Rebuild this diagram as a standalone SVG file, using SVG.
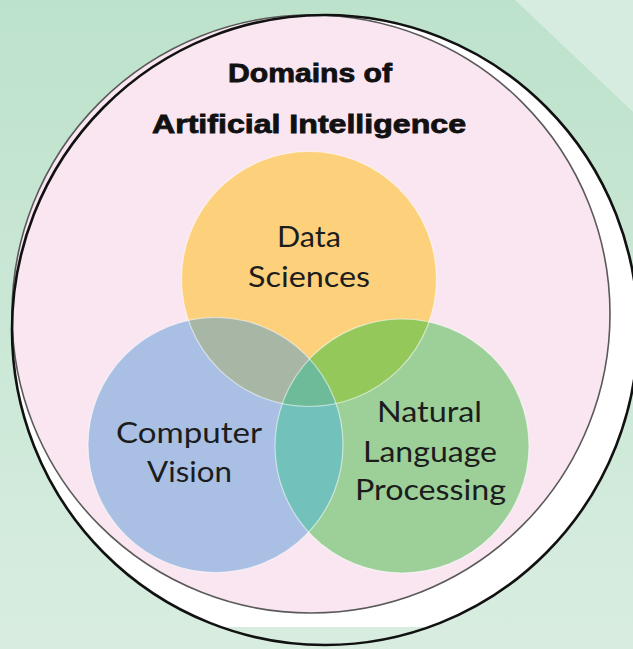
<svg xmlns="http://www.w3.org/2000/svg" width="633" height="649" viewBox="0 0 633 649">
  <defs>
    <linearGradient id="bg" x1="0" y1="0" x2="0" y2="1">
      <stop offset="0" stop-color="#bde2cb"/>
      <stop offset="1" stop-color="#d8ede0"/>
    </linearGradient>
    <clipPath id="clipTop"><rect x="0" y="0" width="633" height="627"/></clipPath>
    <clipPath id="cY"><circle cx="309" cy="279" r="127.5"/></clipPath>
    <clipPath id="cB"><circle cx="215.5" cy="445" r="127.5"/></clipPath>
    <clipPath id="cG"><circle cx="402" cy="446" r="127"/></clipPath>
    <style>
      .title { font-family: "Liberation Sans", Arial, sans-serif; font-weight: bold; font-size: 25px; fill: #111; stroke: #111; stroke-width: 0.8; text-anchor: middle; }
      .lbl { font-family: Lato, "Open Sans", sans-serif; font-size: 29px; fill: #1c1c1c; text-anchor: middle; }
      .edge { fill: none; stroke: #ffffff; stroke-opacity: 0.55; stroke-width: 1.2; }
    </style>
  </defs>

  <g id="background">
    <rect x="0" y="0" width="633" height="649" fill="url(#bg)"/>
    <polygon points="515,0 633,0 633,112" fill="#d6ece0"/>
  </g>

  <g id="frame">
    <ellipse cx="325" cy="330" rx="313" ry="315" fill="#ffffff" clip-path="url(#clipTop)"/>
    <circle cx="311" cy="314" r="299" fill="#f9e6f1" stroke="#5a5a5a" stroke-width="1.6"/>
    <ellipse cx="325" cy="330" rx="313" ry="315" fill="none" stroke="#111" stroke-width="2.6"/>
  </g>

  <g id="title">
    <text class="title" x="310" y="82" textLength="164" lengthAdjust="spacingAndGlyphs">Domains of</text>
    <text class="title" x="309" y="133" textLength="314" lengthAdjust="spacingAndGlyphs">Artificial Intelligence</text>
  </g>

  <g id="data-sciences">
    <circle cx="309" cy="279" r="127.5" fill="#fdd17b"/>
  </g>
  <g id="computer-vision">
    <circle cx="215.5" cy="445" r="127.5" fill="#a9bfe3"/>
  </g>
  <g id="natural-language-processing">
    <circle cx="402" cy="446" r="127" fill="#9dd099"/>
  </g>

  <g id="overlaps">
    <circle cx="215.5" cy="445" r="127.5" fill="#a8b6a5" clip-path="url(#cY)"/>
    <circle cx="402" cy="446" r="127" fill="#94c85b" clip-path="url(#cY)"/>
    <circle cx="402" cy="446" r="127" fill="#72c1bb" clip-path="url(#cB)"/>
    <g clip-path="url(#cY)">
      <circle cx="402" cy="446" r="127" fill="#6dbb99" clip-path="url(#cB)"/>
    </g>
    <circle class="edge" cx="309" cy="279" r="127.5"/>
    <circle class="edge" cx="215.5" cy="445" r="127.5"/>
    <circle class="edge" cx="402" cy="446" r="127"/>
  </g>

  <g id="labels">
    <text class="lbl" x="309" y="247" textLength="64" lengthAdjust="spacingAndGlyphs">Data</text>
    <text class="lbl" x="309" y="287" textLength="122" lengthAdjust="spacingAndGlyphs">Sciences</text>
    <text class="lbl" x="189" y="443" textLength="146" lengthAdjust="spacingAndGlyphs">Computer</text>
    <text class="lbl" x="189.5" y="482" textLength="85" lengthAdjust="spacingAndGlyphs">Vision</text>
    <text class="lbl" x="429.5" y="422" textLength="105" lengthAdjust="spacingAndGlyphs">Natural</text>
    <text class="lbl" x="430" y="462" textLength="134" lengthAdjust="spacingAndGlyphs">Language</text>
    <text class="lbl" x="430.5" y="500" textLength="151" lengthAdjust="spacingAndGlyphs">Processing</text>
  </g>

  <g id="connectors"/>
</svg>
